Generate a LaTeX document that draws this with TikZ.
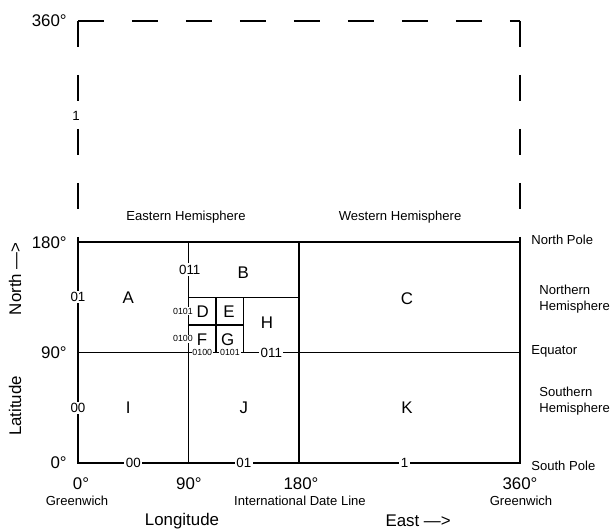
\documentclass[tikz,border=0pt]{standalone}
\usepackage{fontspec}
\setmainfont{Liberation Sans}
\usetikzlibrary{calc}
\tikzset{
  grid line/.style={line width=0.9pt},
  dash line/.style={line width=0.9pt, dash pattern=on 18.5pt off 19.9pt},
  big label/.style={font=\fontsize{12}{14}\selectfont, inner sep=0pt},
  side label/.style={font=\fontsize{9.3}{11.4}\selectfont, inner sep=0pt, align=left},
  code label/.style={font=\fontsize{9.5}{11}\selectfont, fill=white, inner sep=1pt},
  tiny label/.style={font=\fontsize{6.3}{7}\selectfont, fill=white, inner sep=0.6pt}
}

\begin{document}
\begin{tikzpicture}[x=0.030694cm, y=0.030694cm, line cap=butt, line join=miter]

  \useasboundingbox (-63.53,-54.57) rectangle (437.37,377.10);

  % Corners of the map (degrees)
  \coordinate (O)  at (0,0);
  \coordinate (SE) at (360,0);
  \coordinate (NW) at (0,180);
  \coordinate (NE) at (360,180);
  \coordinate (TW) at (0,360);
  \coordinate (TE) at (360,360);

  % Equator and meridians
  \coordinate (EqW) at (0,90);
  \coordinate (EqE) at (360,90);
  \coordinate (M90S)  at (90,0);
  \coordinate (M90N)  at (90,180);
  \coordinate (M180S) at (180,0);
  \coordinate (M180N) at (180,180);

  % Finer cells
  \coordinate (BW) at (90,135);
  \coordinate (BE) at (180,135);
  \coordinate (HS) at (135,90);
  \coordinate (HN) at (135,135);
  \coordinate (DS) at (112.5,90);
  \coordinate (DN) at (112.5,135);
  \coordinate (FW) at (90,112.5);
  \coordinate (FE) at (135,112.5);

  % Upper half, only sketched
  \draw[dash line] (TW) -- (TE);
  \draw[dash line] (TW) -- (NW);
  \draw[dash line] (TE) -- (NE);

  % Grid
  \draw[grid line] (O) rectangle (NE);
  \draw[grid line] (EqW) -- (EqE);
  \draw[grid line] (M90S) -- (M90N);
  \draw[grid line] (M180S) -- (M180N);
  \draw[grid line] (BW) -- (BE);
  \draw[grid line] (HS) -- (HN);
  \draw[grid line] (DS) -- (DN);
  \draw[grid line] (FW) -- (FE);

  % Cells
  \node[big label] (A) at (41,135) {A};
  \node[big label] (B) at (134.5,155) {B};
  \node[big label] (C) at (268,134) {C};
  \node[big label] (D) at (101.5,123) {D};
  \node[big label] (E) at (123,123) {E};
  \node[big label] (F) at (101,100.5) {F};
  \node[big label] (G) at (122,100.5) {G};
  \node[big label] (H) at (154,114) {H};
  \node[big label] (I) at (41,45) {I};
  \node[big label] (J) at (135,45) {J};
  \node[big label] (K) at (268,45) {K};

  % Codes on the lines
  \node[code label] (c1)   at (-1.5,283) {1};
  \node[code label] (c01)  at (0,135) {01};
  \node[code label] (c00)  at (0,45) {00};
  \node[code label] (b00)  at (45,0) {00};
  \node[code label] (b01)  at (135,0) {01};
  \node[code label] (b1)   at (266,0) {1};
  \node[code label] (e011) at (157.5,90) {011};
  \node[code label] (m011) at (91,157.5) {011};
  \node[tiny label] (e0100) at (101.25,90) {0100};
  \node[tiny label] (e0101) at (123.75,90) {0101};
  \node[tiny label] (m0101) at (85.5,123.75) {0101};
  \node[tiny label] (m0100) at (85.5,101.25) {0100};

  % Latitude scale
  \node[big label, anchor=east] (lat360) at (-9,360.5) {360°};
  \node[big label, anchor=east] (lat180) at (-9,179.5) {180°};
  \node[big label, anchor=east] (lat90)  at (-9,90) {90°};
  \node[big label, anchor=east] (lat0)   at (-9,0) {0°};
  \node[big label, rotate=90] (north) at (-51.3,150) {North \textemdash{}>};
  \node[big label, rotate=90] (latitude) at (-51.3,46.5) {Latitude};

  % Longitude scale
  \node[big label] (lon0)   at (2.4,-17) {0°};
  \node[big label] (lon90)  at (90.4,-17) {90°};
  \node[big label] (lon180) at (181.6,-17) {180°};
  \node[big label] (lon360) at (360,-17) {360°};
  \node[side label] (gw0)   at (-0.8,-30.5) {Greenwich};
  \node[side label] (idl)   at (180.8,-30.5) {International Date Line};
  \node[side label] (gw360) at (360.8,-30.5) {Greenwich};
  \node[big label] (longitude) at (84.7,-47) {Longitude};
  \node[big label] (east) at (277,-47) {East \textemdash{}>};

  % Hemispheres
  \node[side label] (eastern) at (88,200.5) {Eastern Hemisphere};
  \node[side label] (western) at (262.3,200.5) {Western Hemisphere};
  \node[side label, anchor=west] (npole)  at (369,181.6) {North Pole};
  \node[side label, anchor=west] (nhemi)  at (375.5,133.6) {Northern\\Hemisphere};
  \node[side label, anchor=west] (equator) at (369,91) {Equator};
  \node[side label, anchor=west] (shemi)  at (375.5,50.5) {Southern\\Hemisphere};
  \node[side label, anchor=west] (spole)  at (369,-2.4) {South Pole};

\end{tikzpicture}
\end{document}
